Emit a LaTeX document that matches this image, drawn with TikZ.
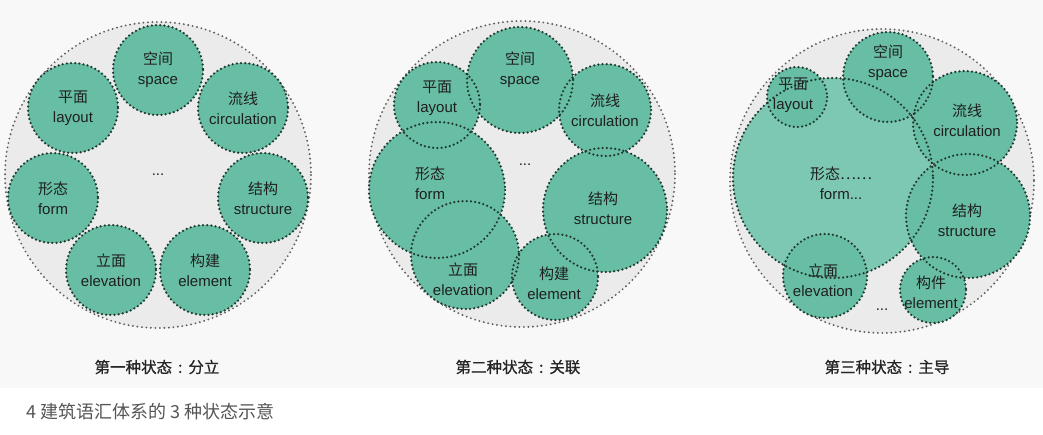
\documentclass[tikz,border=0pt]{standalone}
\usepackage{fontspec}
\setmainfont{Liberation Sans}
\newfontfamily\cjk{Noto Sans CJK SC}
\newfontfamily\cjkmed[FakeBold=0.8]{Noto Sans CJK SC}

\definecolor{bubblefill}{HTML}{68BEA5}
\definecolor{bubblelight}{HTML}{7DC8B3}
\definecolor{bubbledot}{HTML}{22392F}
\definecolor{poolfill}{HTML}{EBEBEB}
\definecolor{pooldot}{HTML}{5E5E5E}
\definecolor{pagegray}{HTML}{F8F8F8}
\definecolor{captext}{HTML}{555555}

\begin{document}
\begin{tikzpicture}[
			x=1pt, y=-1pt,
			every node/.style={font=\fontsize{15}{20}\selectfont, text=black!88, align=center},
			bubbleline/.style={bubbledot, line width=2.5pt, line cap=round, dash pattern=on 0pt off 4.2pt},
			poolline/.style={pooldot, line width=2.1pt, line cap=round, dash pattern=on 0pt off 4.5pt},
			statecap/.style={font=\cjkmed\fontsize{15.5}{16}\selectfont, text=black!85}
			]
			\useasboundingbox (0,0) rectangle (1043,434);
			\fill[pagegray] (0,0) rectangle (1043,388);
			
			% first state: separate
			\begin{scope}[shift={(158,175)}]
				\fill[poolfill] (0,0) circle[radius=153];
				\draw[poolline] (0,0) circle[radius=153];
				
				\foreach \x/\y in {0/-105, 85/-67, 105/23, 47/95, -47/95, -105/23, -85/-67}
				{
					\fill[bubblefill] (\x,\y) circle[radius=45];
				}
				\foreach \x/\y in {0/-105, 85/-67, 105/23, 47/95, -47/95, -105/23, -85/-67}
				{
					\draw[bubbleline] (\x,\y) circle[radius=45];
				}
				
				\node (spaceA) at (0,-105) {{\cjk 空间}\\space};
				\node (layoutA) at (-85,-67) {{\cjk 平面}\\layout};
				\node (circA) at (85,-67) {{\cjk 流线}\\circulation};
				\node (formA) at (-105,23) {{\cjk 形态}\\form};
				\node (structA) at (105,23) {{\cjk 结构}\\structure};
				\node (elevA) at (-47,95) {{\cjk 立面}\\elevation};
				\node (elemA) at (47,95) {{\cjk 构建}\\element};
				\node (dotsA) at (0,0) {...};
			\end{scope}
			
			% second state: linked
			\begin{scope}[shift={(522,174)}]
				\fill[poolfill] (0,0) circle[radius=153];
				\draw[poolline] (0,0) circle[radius=153];
				
				\foreach \x/\y/\r in {-2/-94/53, -85/-69/43, 83/-64/46, -85/16/68, 83/36/62, -57/81/54, 33/103/43}
				{
					\fill[bubblefill] (\x,\y) circle[radius=\r];
				}
				\foreach \x/\y/\r in {-2/-94/53, -85/-69/43, 83/-64/46, -85/16/68, 83/36/62, -57/81/54, 33/103/43}
				{
					\draw[bubbleline] (\x,\y) circle[radius=\r];
				}
				
				\node (spaceB) at (-2,-104) {{\cjk 空间}\\space};
				\node (layoutB) at (-85,-76) {{\cjk 平面}\\layout};
				\node (circB) at (83,-64) {{\cjk 流线}\\circulation};
				\node (formB) at (-92,9) {{\cjk 形态}\\form};
				\node (structB) at (81,34) {{\cjk 结构}\\structure};
				\node (elevB) at (-59,105) {{\cjk 立面}\\elevation};
				\node (elemB) at (32,109) {{\cjk 构建}\\element};
				\node (dotsB) at (3,-9) {...};
			\end{scope}
			
			% third state: dominant
			\begin{scope}[shift={(882,181)}]
				\fill[poolfill] (0,0) circle[radius=152];
				\draw[poolline] (0,0) circle[radius=152];
				
				\fill[bubblelight] (-49,-3) circle[radius=100];
				\foreach \x/\y/\r in {6/-104/45, -85/-84/30, 83/-58/52, 86/35/62, -57/95/42, 51/109/33}
				{
					\fill[bubblefill] (\x,\y) circle[radius=\r];
				}
				\foreach \x/\y/\r in {-49/-3/100, 6/-104/45, -85/-84/30, 83/-58/52, 86/35/62, -57/95/42, 51/109/33}
				{
					\draw[bubbleline] (\x,\y) circle[radius=\r];
				}
				
				\node (spaceC) at (6,-118) {{\cjk 空间}\\space};
				\node (layoutC) at (-89,-86) {{\cjk 平面}\\layout};
				\node (circC) at (85,-61) {{\cjk 流线}\\circulation};
				\node (formC) at (-41,2) {{\cjk 形态……}\\form...};
				\node (structC) at (85,39) {{\cjk 结构}\\structure};
				\node (elevC) at (-59,99) {{\cjk 立面}\\elevation};
				\node (elemC) at (49,111) {{\cjk 构件}\\element};
				\node (dotsC) at (0,129) {...};
			\end{scope}
			
			\node[statecap] (capA) at (157,367) {第一种状态\hspace{6pt}:\hspace{6pt}分立};
			\node[statecap] (capB) at (518,367) {第二种状态\hspace{6pt}:\hspace{6pt}关联};
			\node[statecap] (capC) at (887,367) {第三种状态\hspace{6pt}:\hspace{6pt}主导};
			
			\node[anchor=west, font=\cjk\fontsize{18}{20}\selectfont, text=captext] (figcap) at (23,412) {4 建筑语汇体系的 3 种状态示意};
		\end{tikzpicture}
\end{document}
